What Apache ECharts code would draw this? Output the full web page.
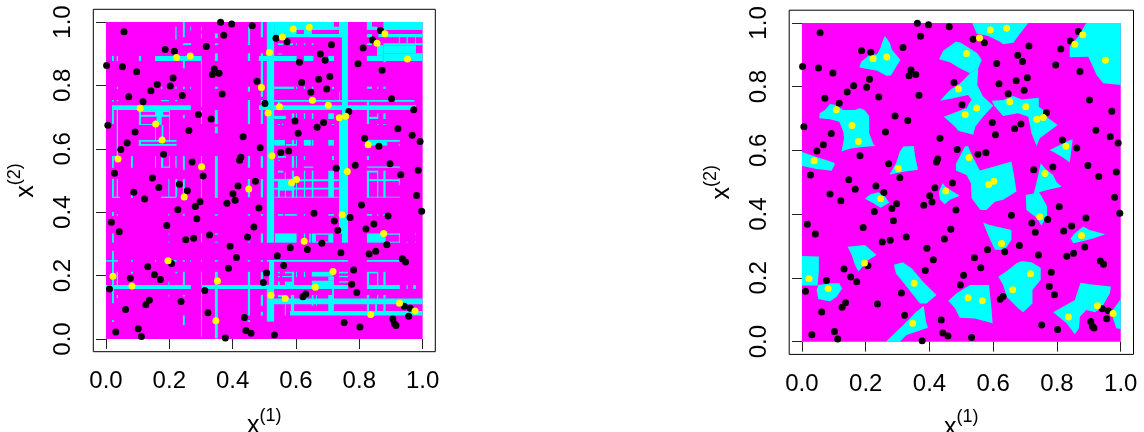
<!DOCTYPE html>
<html>
<head>
<meta charset="utf-8">
<style>html,body{margin:0;padding:0;background:#fff}#chart{width:1144px;height:432px}</style>
<script src="https://cdn.jsdelivr.net/npm/echarts@6/dist/echarts.min.js"></script>
</head>
<body>
<div id="chart"></div>
<script>
const tickValues = [0, 0.2, 0.4, 0.6, 0.8, 1];

// class 0 points (same in both panels)
const blackPoints = [
  [.362,.999],[.397,.994],[.462,.988],[.057,.969],[.372,.958],[.317,.923],[.187,.913],[.216,.908],[.002,.863],[.052,.859],
  [.097,.843],[.342,.852],[.336,.834],[.357,.838],[.477,.813],[.212,.823],[.162,.803],[.142,.783],[.203,.798],[.241,.768],
  [.367,.773],[.072,.764],[.117,.748],[.502,.743],[.292,.708],[.332,.694],[.006,.674],[.262,.658],[.092,.653],[.433,.638],
  [.067,.618],[.047,.598],[.487,.603],[.182,.583],[.426,.573],[.422,.564],[.272,.558],[.027,.523],[.147,.508],[.307,.514],
  [.537,.949],[.572,.938],[.712,.928],[.867,.973],[.842,.943],[.812,.918],[.677,.899],[.692,.879],[.611,.873],[.796,.868],
  [.872,.848],[.707,.828],[.672,.819],[.618,.809],[.697,.789],[.647,.778],[.902,.758],[.972,.723],[.767,.718],[.597,.688],
  [.687,.683],[.667,.668],[.922,.663],[.607,.649],[.967,.643],[.992,.623],[.817,.633],[.862,.608],[.577,.593],[.552,.588],
  [.897,.553],[.787,.548],[.727,.539],[.986,.532],[.931,.518],
  [.232,.488],[.167,.478],[.257,.468],[.088,.463],[.122,.442],[.417,.483],[.401,.458],[.408,.438],[.382,.428],[.472,.498],
  [.297,.433],[.282,.418],[.227,.408],[.483,.413],[.287,.379],[.192,.358],[.017,.368],[.042,.338],[.467,.353],[.327,.328],
  [.277,.318],[.252,.313],[.447,.322],[.392,.293],[.412,.257],[.207,.238],[.132,.228],[.387,.223],[.507,.208],[.153,.203],
  [.077,.192],[.172,.188],[.497,.178],[.011,.158],[.312,.153],[.137,.122],[.237,.118],[.126,.108],[.062,.093],[.322,.083],
  [.437,.068],[.102,.032],[.442,.027],[.458,.018],[.031,.022],[.112,.008],[.377,.003],
  [.981,.453],[.997,.403],[.657,.397],[.807,.423],[.721,.372],[.771,.383],[.891,.388],[.732,.343],[.821,.347],[.846,.363],
  [.682,.302],[.887,.297],[.582,.288],[.636,.282],[.852,.277],[.831,.268],[.742,.272],[.541,.263],[.561,.232],[.936,.253],
  [.946,.243],[.782,.218],[.776,.173],[.792,.147],[.631,.142],[.622,.133],[.942,.103],[.961,.097],[.956,.072],[.906,.063],
  [.911,.048],[.916,.043],[.752,.052],[.802,.038],[.532,.013]
];

// class 1 points
const yellowPoints = [
  [.223,.888],[.266,.893],[.516,.904],[.491,.793],[.108,.728],[.512,.713],[.157,.678],[.177,.628],[.038,.568],[.302,.543],
  [.524,.578],[.557,.953],[.591,.978],[.642,.983],[.881,.963],[.856,.933],[.952,.883],[.652,.753],[.548,.733],[.702,.737],
  [.737,.698],[.757,.703],[.828,.613],[.762,.528],[.247,.448],[.451,.473],[.196,.247],[.022,.198],[.082,.167],[.352,.183],
  [.347,.058],[.602,.503],[.586,.493],[.746,.392],[.877,.333],[.626,.308],[.717,.213],[.661,.163],[.521,.138],[.566,.128],
  [.927,.113],[.836,.077],[.976,.088]
];

// left panel: cyan cells as [top, bottom, [x0, x1, x0, x1, ...]]
const leftBands = [
  [1,.304,[.508,.531,.745,.764]],[.249,.170,[.515,.531]],[.170,.055,[.508,.531]],
  [1,.952,[.736,.764]],[.701,.333,[.736,.764]],
  [1,.975,[.531,.720]],[.975,.962,[.531,.602,.625,.650]],[.962,.952,[.531,.764]],[.985,.975,[.720,.736]],
  [.893,.877,[.155,.302,.483,.602,.625,.655,.702,.720,.019,.025,.034,.038,.104,.111,.824,.876]],
  [.737,.722,[.019,.268,.483,.979]],[.754,.748,[.531,.974]],
  [.170,.158,[0,.268,.302,.764,.824,.928,.949,.953,.970,.979]],[.249,.244,[.508,.764]],
  [.128,.110,[.508,1]],[.088,.074,[.581,1]],
  [.333,.304,[.534,.602,.702,.718,.824,.883,.625,.629,.642,.647,.650,.663,.925,.928]],
  [1,.975,[.824,.840,.876,1]],[.985,.975,[.824,.856]],[.962,.952,[.876,1,.824,.840,.860,.876]],
  [.952,.933,[.925,.928,.949,.953,.976,.979]],[.933,.927,[.876,1,.824,.840]],[.927,.901,[.876,.979]],
  [.927,.893,[.856,.876]],[.901,.877,[.876,1]],[.877,.873,[.876,.883]],
  [.504,.468,[.543,.594]],[.212,.197,[.650,.718]],[.184,.158,[.650,.720]],[.197,.184,[.702,.720]],
  [.985,.945,[.219,.223]],[1,.952,[.243,.249,.489,.496]],[.985,.973,[.266,.269,.300,.303]],
  [.964,.949,[.300,.303,.344,.353]],[.985,.933,[.449,.455]],
  [.933,.927,[.243,.269,.344,.353,.448,.455,.543,.560,.581,.590,.600,.603,.625,.629,.650,.655]],
  [.901,.877,[.344,.353,.448,.455,.489,.496]],[.901,.898,[.543,.556]],[.877,.854,[.243,.249]],
  [.877,.733,[.300,.303]],[.877,.764,[.489,.496]],[.796,.780,[.448,.455]],
  [.796,.789,[.034,.038,.174,.178,.219,.223,.243,.249,.266,.269,.344,.353,.531,.594,.600,.603,.625,.629,.650,.655,.714,.720,.824,.840,.856,.860,.876,.883]],
  [.754,.750,[.019,.025,.034,.038,.174,.199,.219,.225]],[.754,.678,[.448,.455,.489,.496,.824,.831]],
  [.748,.737,[.543,.549]],[.780,.754,[.736,.739]],
  [.722,.678,[.019,.025,.104,.111,.300,.303,.344,.353]],[.707,.696,[.243,.249]],[.722,.575,[.034,.038]],
  [.722,.716,[.104,.199]],[.707,.701,[.104,.199]],[.678,.675,[.104,.155]],[.722,.701,[.155,.181]],[.701,.675,[.160,.176]],
  [.675,.628,[.155,.158,.176,.181]],[.722,.622,[.199,.202]],[.628,.622,[.104,.223]],[.615,.610,[.104,.223]],
  [.628,.610,[.104,.111]],[.670,.649,[.344,.353]],
  [.577,.540,[.019,.025,.079,.085,.155,.158,.174,.181,.199,.202,.219,.223,.300,.303,.448,.455,.489,.496,.587,.594,.600,.603]],
  [.577,.572,[.019,.044,.543,.568]],[.577,.533,[.243,.249]],[.577,.445,[.344,.353]],[.544,.540,[.181,.202,.625,.655,.824,.928]],
  [.505,.447,[.019,.025,.034,.038,.197,.200,.300,.303,.448,.455,.489,.496]],[.505,.449,[.219,.225,.243,.249]],
  [.449,.445,[.019,.044,.174,.223]],[.454,.445,[.079,.085]],[.401,.388,[.019,.025]],
  [.394,.389,[.019,.025,.034,.038,.197,.200,.243,.249,.344,.353,.448,.455,.489,.496,.543,.560,.565,.603,.625,.629,.702,.720,.824,.840,.856,.860,.876,.883]],
  [.333,.304,[.019,.025,.300,.303,.489,.496]],
  [.333,.329,[.197,.200,.344,.353,.448,.455,.663,.702,.883,.928,.976,.979]],
  [.307,.304,[.197,.200,.243,.249,.344,.353,.448,.455,.663,.702,.883,.928,.949,.953,.976,.979]],
  [.278,.170,[.019,.025]],
  [.249,.244,[0,.038,.079,.085,.155,.158,.197,.223,.243,.249,.266,.269,.300,.303,.344,.353,.448,.455,.489,.496,.824,.928]],
  [.212,.170,[.034,.038,.300,.303,.243,.249,.344,.353,.448,.455,.489,.496,.824,.831,.856,.860,.876,.883,.587,.594]],
  [.212,.207,[.079,.085,.219,.225,.543,.549,.565,.594,.736,.764,.831,.856]],
  [.181,.170,[.197,.200,.543,.549,.565,.594]],[.199,.195,[.543,.549,.556,.594,.736,.764]],
  [.212,.195,[.600,.603,.625,.629]],[.182,.178,[.736,.764]],
  [.158,.113,[.019,.025]],[.139,.129,[.034,.038]],[.139,.134,[.197,.200,.243,.249]],
  [.158,.007,[.300,.303]],[.158,.002,[.344,.353]],[.060,.054,[.019,.025,.448,.455]],[.074,.044,[.243,.249]],
  [.158,.074,[.448,.455]],[.139,.105,[.489,.496,.650,.655,.663,.666]],[.086,.074,[.489,.496]],
  [.139,.132,[.543,.568]],[.139,.086,[.584,.594]],[.139,.081,[.702,.720]],[.158,.139,[.714,.720]],[.110,.074,[.565,.568]],
  [.139,.128,[.824,.831,.856,.860,.876,.883]],[.110,.086,[.824,.831,.850,.856,.876,.883]],
  [.531,.446,[.587,.594,.625,.629,.650,.655,.702,.720,.824,.831,.856,.860,.876,.883]],
  [.531,.525,[.543,.560,.831,.856]],[.525,.446,[.565,.568]],[.505,.502,[.531,.602]],
  [.504,.498,[.531,.736,.831,.928]],[.477,.472,[.531,.736]],[.449,.446,[.531,.736,.824,.928]],
  [.504,.446,[.543,.549,.600,.603]],[.505,.486,[.925,.928]],
  [.628,.610,[.531,.565,.587,.594,.600,.603,.625,.647,.650,.655,.702,.720,.824,.831]],[.615,.610,[.568,.602,.925,.928]],
  [.628,.622,[.831,.928]],[.622,.610,[.831,.888]],
  [.577,.565,[.625,.629,.714,.720,.824,.831]],[.565,.562,[.543,.549]],
  [.704,.694,[.531,.568]],[.712,.694,[.587,.594,.600,.603,.625,.629,.650,.655,.702,.720,.856,.860,.876,.883]],
  [.701,.694,[.831,.856]],[.678,.675,[.543,.549,.556,.560,.714,.720,.856,.860,.876,.883]]
];

// right panel: outlines of the cyan regions
const rightRegions = [
  [[.260,.959],[.268,.949],[.276,.936],[.282,.917],[.309,.884],[.299,.868],[.279,.835],[.265,.834],[.236,.850],[.180,.860],[.186,.879],[.213,.900],[.236,.902],[.247,.924],[.251,.938]],
  [[.088,.746],[.103,.743],[.130,.727],[.166,.727],[.182,.733],[.198,.725],[.211,.708],[.211,.654],[.224,.620],[.229,.614],[.182,.610],[.153,.606],[.124,.597],[.132,.638],[.130,.659],[.117,.690],[.088,.698],[.054,.701],[.056,.717],[.072,.727]],
  [[0,.595],[.041,.581],[.100,.562],[.103,.556],[.093,.536],[.046,.542],[0,.551]],
  [[.318,.612],[.351,.614],[.355,.581],[.364,.539],[.318,.533],[.274,.524],[.295,.560],[.307,.596]],
  [[.430,.886],[.443,.913],[.482,.941],[.497,.939],[.527,.920],[.550,.905],[.564,.884],[.553,.858],[.527,.842],[.495,.858],[.464,.877]],
  [[.433,.756],[.464,.790],[.495,.809],[.527,.842],[.553,.858],[.550,.805],[.568,.769],[.563,.737],[.532,.760],[.521,.774],[.474,.764]],
  [[.445,.706],[.474,.717],[.506,.729],[.516,.732],[.532,.760],[.568,.769],[.600,.740],[.568,.706],[.544,.675],[.537,.649],[.490,.662],[.482,.673]],
  [[.595,.756],[.631,.758],[.663,.771],[.689,.760],[.743,.765],[.743,.737],[.757,.727],[.767,.706],[.802,.680],[.746,.638],[.736,.614],[.720,.654],[.710,.706],[.678,.717],[.631,.708],[.603,.740]],
  [[.534,1],[.548,.967],[.584,.959],[.621,.941],[.631,.933],[.663,.938],[.683,.965],[.710,1]],
  [[.892,1],[.866,.957],[.840,.926],[.840,.892],[.898,.894],[.908,.873],[.924,.837],[.945,.811],[1,.805],[1,1]],
  [[.849,.635],[.845,.601],[.840,.562],[.814,.581],[.777,.601],[.809,.617],[.830,.628]],
  [[.749,.560],[.765,.541],[.788,.523],[.798,.502],[.814,.486],[.769,.476],[.744,.469],[.754,.452],[.769,.424],[.769,.397],[.751,.364],[.738,.387],[.704,.413],[.702,.460],[.727,.465],[.734,.492],[.741,.523]],
  [[.521,.614],[.535,.581],[.558,.537],[.600,.549],[.657,.565],[.665,.523],[.673,.471],[.631,.445],[.605,.439],[.579,.413],[.560,.413],[.532,.450],[.530,.497],[.516,.523],[.483,.537],[.483,.558],[.495,.581],[.511,.612]],
  [[.198,.448],[.213,.462],[.239,.469],[.255,.462],[.274,.437],[.247,.420],[.224,.434]],
  [[.441,.497],[.454,.483],[.495,.458],[.464,.445],[.448,.431],[.433,.445],[.430,.471]],
  [[.143,.298],[.198,.303],[.234,.272],[.208,.256],[.177,.220],[.166,.241],[.156,.272]],
  [[0,.269],[.053,.267],[.053,.220],[.049,.176],[0,.176]],
  [[.051,.178],[.088,.183],[.117,.183],[.126,.167],[.109,.141],[.088,.126],[.051,.134],[.046,.162]],
  [[.288,.241],[.316,.249],[.344,.230],[.380,.188],[.422,.146],[.391,.120],[.370,.120],[.333,.167],[.295,.214]],
  [[.382,.113],[.389,.063],[.395,.044],[.328,.021],[.307,0],[.263,0],[.318,.052],[.359,.094]],
  [[.587,.178],[.595,.099],[.598,.058],[.542,.073],[.495,.075],[.480,.105],[.459,.128],[.485,.152],[.527,.178]],
  [[.568,.374],[.589,.366],[.657,.350],[.657,.319],[.636,.288],[.605,.288],[.584,.335]],
  [[.856,.340],[.882,.361],[.903,.350],[.952,.337],[.913,.324],[.877,.314],[.851,.309],[.843,.324]],
  [[.689,.253],[.720,.249],[.749,.232],[.749,.194],[.723,.162],[.723,.120],[.694,.092],[.678,.105],[.642,.141],[.631,.178],[.616,.204],[.647,.225],[.673,.246]],
  [[.874,.185],[.903,.180],[.969,.173],[.966,.152],[.939,.105],[.919,.092],[.892,.099],[.872,.078],[.869,.042],[.856,.023],[.830,.058],[.788,.092],[.856,.131],[.866,.162]],
  [[1,.134],[1,.040],[.986,.042],[.976,.073],[.971,.094]]
];

const MAGENTA = '#ff00ff';
const CYAN = '#00ffff';
const fontFamily = '"Liberation Sans", Arial, sans-serif';

// flatten the bands into [x0, x1, top, bottom] rows
const leftCells = [[0, 1, 1, 0, 0]];
leftBands.forEach(band => {
  for (let i = 0; i < band[2].length; i += 2) {
    leftCells.push([band[2][i], band[2][i + 1], band[0], band[1], 1]);
  }
});

function renderCell(params, api) {
  const a = api.coord([api.value(0), api.value(2)]);
  const b = api.coord([api.value(1), api.value(3)]);
  return {
    type: 'rect',
    shape: { x: a[0], y: a[1], width: b[0] - a[0], height: b[1] - a[1] },
    style: { fill: api.value(4) ? CYAN : MAGENTA }
  };
}

function renderRegion(params, api) {
  return {
    type: 'polygon',
    shape: { points: rightRegions[params.dataIndex].map(p => api.coord(p)) },
    style: { fill: CYAN }
  };
}

function axisTitle(n) {
  return '{b|x}{s|(' + n + ')}';
}

function titleRich() {
  return {
    b: { fontSize: 25, lineHeight: 32, verticalAlign: 'bottom', fontFamily: fontFamily, color: '#000' },
    s: { fontSize: 18, lineHeight: 22, verticalAlign: 'top', fontFamily: fontFamily, color: '#000' }
  };
}

function makeAxis(isX, gridIndex, n, nameGap) {
  return {
    type: 'value',
    gridIndex: gridIndex,
    min: -0.04,
    max: 1.04,
    axisLine: { show: false },
    splitLine: { show: false },
    axisTick: { show: true, length: 10, customValues: tickValues, lineStyle: { color: '#222', width: 1 } },
    axisLabel: {
      show: true,
      customValues: tickValues,
      formatter: v => v.toFixed(1),
      rotate: isX ? 0 : 90,
      margin: 18,
      fontSize: 24,
      color: '#000',
      fontFamily: fontFamily,
      hideOverlap: false
    },
    name: axisTitle(n),
    nameLocation: 'middle',
    nameGap: nameGap,
    nameRotate: isX ? 0 : 90,
    nameTextStyle: { rich: titleRich() }
  };
}

function pointSeries(points, color, i) {
  return {
    type: 'scatter',
    xAxisIndex: i,
    yAxisIndex: i,
    data: points,
    symbolSize: 7,
    itemStyle: { color: color, opacity: 1 },
    silent: true,
    z: 5,
    clip: false
  };
}

const chart = echarts.init(document.getElementById('chart'), null, { width: 1144, height: 432 });
chart.setOption({
  animation: false,
  backgroundColor: '#fff',
  grid: [
    { left: 93.3, top: 9.3, width: 342, height: 342.4, show: true, borderColor: '#000', borderWidth: 1, backgroundColor: '#fff', outerBoundsMode: 'none' },
    { left: 789.2, top: 10.2, width: 344.3, height: 344.2, show: true, borderColor: '#000', borderWidth: 1, backgroundColor: '#fff', outerBoundsMode: 'none' }
  ],
  xAxis: [makeAxis(true, 0, 1, 55), makeAxis(true, 1, 1, 54)],
  yAxis: [makeAxis(false, 0, 2, 55), makeAxis(false, 1, 2, 55)],
  series: [
    {
      type: 'custom',
      xAxisIndex: 0,
      yAxisIndex: 0,
      renderItem: renderCell,
      data: leftCells,
      encode: { x: [0, 1], y: [2, 3] },
      silent: true,
      z: 1
    },
    {
      type: 'custom',
      xAxisIndex: 1,
      yAxisIndex: 1,
      renderItem: renderCell,
      data: [[0, 1, 1, 0, 0]],
      encode: { x: [0, 1], y: [2, 3] },
      silent: true,
      z: 1
    },
    {
      type: 'custom',
      xAxisIndex: 1,
      yAxisIndex: 1,
      renderItem: renderRegion,
      data: rightRegions.map((r, i) => [r[0][0], r[0][1], i]),
      silent: true,
      z: 2
    },
    pointSeries(blackPoints, '#000', 0),
    pointSeries(yellowPoints, '#ffff00', 0),
    pointSeries(blackPoints, '#000', 1),
    pointSeries(yellowPoints, '#ffff00', 1)
  ]
});
</script>
</body>
</html>
